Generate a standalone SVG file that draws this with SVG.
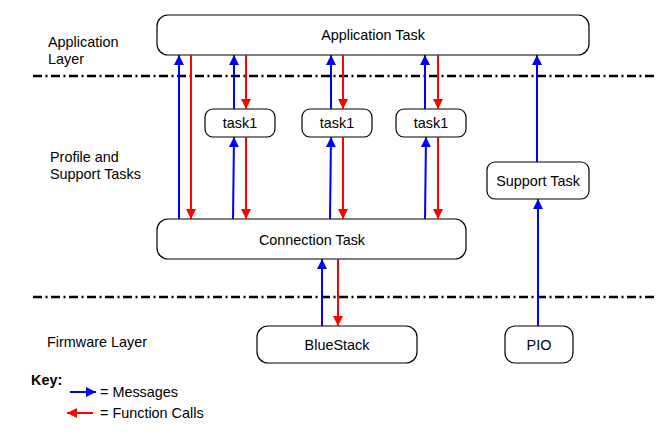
<svg xmlns="http://www.w3.org/2000/svg" width="656" height="439" viewBox="0 0 656 439">
<defs>
<style>
.box{fill:#fff;stroke:#000;stroke-width:1.2}
.t{font-family:"Liberation Sans",Arial,sans-serif;font-size:14.4px;fill:#000}
.c{text-anchor:middle}
.sep{stroke:#000;stroke-width:2.5;stroke-dasharray:9 3.5 2 3.5}
.m{stroke:#0000ff;stroke-width:2;fill:none;marker-end:url(#ab)}
.f{stroke:#ff0000;stroke-width:2;fill:none;marker-end:url(#ar)}
</style>
<marker id="ab" viewBox="0 0 10 10" refX="10" refY="5" markerWidth="5.5" markerHeight="5" markerUnits="strokeWidth" orient="auto"><path d="M0,0 L10,5 L0,10 z" fill="#0000ff"/></marker>
<marker id="ar" viewBox="0 0 10 10" refX="10" refY="5" markerWidth="5.5" markerHeight="5" markerUnits="strokeWidth" orient="auto"><path d="M0,0 L10,5 L0,10 z" fill="#ff0000"/></marker>
</defs>
<rect width="656" height="439" fill="#fff"/>
<g id="layers">
<line class="sep" x1="33" y1="76" x2="656" y2="76"/>
<line class="sep" x1="33" y1="297" x2="656" y2="297"/>
<text class="t" x="48" y="47">Application</text>
<text class="t" x="48" y="64">Layer</text>
<text class="t" x="50" y="162">Profile and</text>
<text class="t" x="50" y="179">Support Tasks</text>
<text class="t" x="47" y="347">Firmware Layer</text>
</g>
<g id="app"><rect class="box" x="157" y="15" width="432" height="40" rx="11"/><text class="t c" x="373" y="40">Application Task</text></g>
<g id="task1a"><rect class="box" x="205" y="109" width="70" height="28" rx="8"/><text class="t c" x="240" y="128">task1</text></g>
<g id="task1b"><rect class="box" x="302" y="109" width="70" height="28" rx="8"/><text class="t c" x="337" y="128">task1</text></g>
<g id="task1c"><rect class="box" x="396" y="109" width="70" height="28" rx="8"/><text class="t c" x="431" y="128">task1</text></g>
<g id="support"><rect class="box" x="487" y="162" width="102" height="37" rx="8"/><text class="t c" x="538" y="186">Support Task</text></g>
<g id="conn"><rect class="box" x="157" y="219" width="309" height="40" rx="11"/><text class="t c" x="312" y="245">Connection Task</text></g>
<g id="bluestack"><rect class="box" x="257" y="326" width="160" height="37" rx="11"/><text class="t c" x="337" y="350">BlueStack</text></g>
<g id="pio"><rect class="box" x="505" y="326" width="68" height="37" rx="10"/><text class="t c" x="539" y="350">PIO</text></g>
<g id="connectors">
<line class="m" x1="179" y1="219" x2="179" y2="55"/>
<line class="f" x1="191" y1="55" x2="191" y2="219"/>
<line class="m" x1="234" y1="109" x2="234" y2="55"/>
<line class="f" x1="246" y1="55" x2="246" y2="109"/>
<line class="m" x1="233" y1="219" x2="234" y2="137"/>
<line class="f" x1="246" y1="137" x2="246" y2="219"/>
<line class="m" x1="331" y1="109" x2="331" y2="55"/>
<line class="f" x1="343" y1="55" x2="343" y2="109"/>
<line class="m" x1="330" y1="219" x2="331" y2="137"/>
<line class="f" x1="343" y1="137" x2="343" y2="219"/>
<line class="m" x1="425" y1="109" x2="425" y2="55"/>
<line class="f" x1="438" y1="55" x2="438" y2="109"/>
<line class="m" x1="425" y1="219" x2="426" y2="137"/>
<line class="f" x1="438" y1="137" x2="438" y2="219"/>
<line class="m" x1="537" y1="162" x2="537" y2="55"/>
<line class="m" x1="538" y1="326" x2="538" y2="199"/>
<line class="m" x1="322" y1="326" x2="322" y2="259"/>
<line class="f" x1="338" y1="259" x2="338" y2="326"/>
</g>
<g id="key">
<text class="t" x="31" y="385" font-weight="bold">Key:</text>
<line class="m" x1="70" y1="392" x2="96" y2="392"/>
<text class="t" x="100" y="397">= Messages</text>
<line class="f" x1="93" y1="413" x2="67" y2="413"/>
<text class="t" x="100" y="418">= Function Calls</text>
</g>
</svg>
